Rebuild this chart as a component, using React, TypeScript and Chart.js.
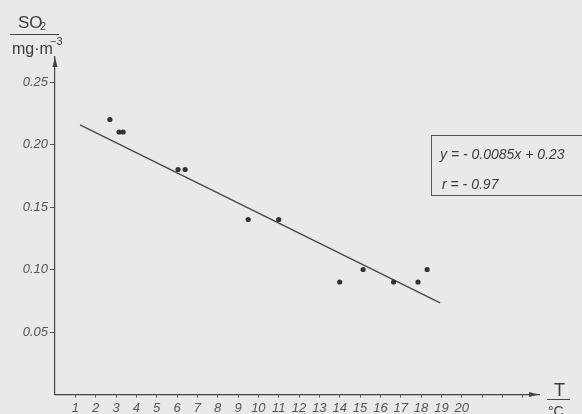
import React, { useEffect, useRef } from "react";
import { Chart, registerables } from "chart.js";

Chart.register(...registerables);

// Data
const tempC = [2.7, 3.15, 3.35, 6.05, 6.4, 9.5, 11.0, 14.0, 15.15, 16.65, 17.85, 18.3];
const so2 = [0.22, 0.21, 0.21, 0.18, 0.18, 0.14, 0.14, 0.09, 0.1, 0.09, 0.09, 0.1];
const fitX = [1.23, 18.94];
const fitY = [0.2157, 0.0733];
const xLabelMin = 1;
const xLabelMax = 20;
const yTickLabels = ["0.05", "0.10", "0.15", "0.20", "0.25"];
const equationText = "y = - 0.0085x + 0.23";
const rText = "r = - 0.97";

const INK = "#444";
const TICK_INK = "#555";
const FONT = "'Liberation Sans', Arial, sans-serif";

const arrowPlugin = {
  id: "axisArrows",
  afterDraw(chart: any) {
    const { ctx } = chart;
    const xs = chart.scales.x;
    const ys = chart.scales.y;
    const x0 = xs.getPixelForValue(0);
    const y0 = ys.getPixelForValue(0);
    const yTop = ys.getPixelForValue(ys.max);
    const xRight = xs.getPixelForValue(xs.max);
    ctx.save();
    ctx.fillStyle = INK;
    ctx.beginPath();
    ctx.moveTo(x0, yTop);
    ctx.lineTo(x0 - 2.5, yTop + 10);
    ctx.lineTo(x0 + 2.5, yTop + 10);
    ctx.closePath();
    ctx.fill();
    ctx.beginPath();
    ctx.moveTo(xRight, y0);
    ctx.lineTo(xRight - 10, y0 - 2.5);
    ctx.lineTo(xRight - 10, y0 + 2.5);
    ctx.closePath();
    ctx.fill();
    ctx.restore();
  },
};

export default function App() {
  const ref = useRef<HTMLCanvasElement | null>(null);

  useEffect(() => {
    if (!ref.current) return;
    const chart = new Chart(ref.current, {
      type: "scatter",
      data: {
        datasets: [
          {
            data: tempC.map((x, i) => ({ x, y: so2[i] })),
            backgroundColor: "#333",
            borderWidth: 0,
            pointRadius: 2.6,
          },
          {
            data: fitX.map((x, i) => ({ x, y: fitY[i] })),
            showLine: true,
            borderColor: INK,
            borderWidth: 1.2,
            pointRadius: 0,
          },
        ],
      },
      options: {
        animation: false,
        responsive: false,
        devicePixelRatio: 1,
        layout: { padding: { top: 57, right: 43, left: 0, bottom: 0 } },
        plugins: { legend: { display: false }, tooltip: { enabled: false } },
        scales: {
          x: {
            type: "linear",
            min: 0,
            max: 23.8,
            afterFit: (s: any) => {
              s.height = 19.5;
            },
            border: { display: true, color: INK, width: 1.2 },
            grid: {
              drawOnChartArea: false,
              drawTicks: true,
              tickLength: 3,
              color: (c: any) => (c.tick && c.tick.value === 0 ? "rgba(0,0,0,0)" : TICK_INK),
            },
            ticks: {
              stepSize: 1,
              includeBounds: false,
              autoSkip: false,
              maxRotation: 0,
              padding: 3,
              color: TICK_INK,
              font: { family: FONT, size: 13, style: "italic" },
              callback: (v: any) => (v >= xLabelMin && v <= xLabelMax ? String(v) : ""),
            },
          },
          y: {
            type: "linear",
            min: 0,
            max: 0.27,
            afterFit: (s: any) => {
              s.width = 55;
            },
            border: { display: true, color: INK, width: 1.2 },
            grid: {
              drawOnChartArea: false,
              drawTicks: true,
              tickLength: 5,
              color: (c: any) => (c.tick && c.tick.value === 0 ? "rgba(0,0,0,0)" : TICK_INK),
            },
            ticks: {
              stepSize: 0.05,
              includeBounds: false,
              autoSkip: false,
              padding: 2,
              color: TICK_INK,
              font: { family: FONT, size: 13, style: "italic" },
              callback: (v: any) => {
                const idx = Math.round(v / 0.05) - 1;
                return idx >= 0 && idx < yTickLabels.length ? yTickLabels[idx] : "";
              },
            },
          },
        },
      },
      plugins: [arrowPlugin],
    } as any);
    return () => chart.destroy();
  }, []);

  const txt = (extra: React.CSSProperties): React.CSSProperties => ({
    position: "absolute",
    fontFamily: FONT,
    color: "#3c3c3c",
    lineHeight: 1,
    whiteSpace: "nowrap",
    ...extra,
  });

  return (
    <div
      style={{
        position: "fixed",
        left: 0,
        top: 0,
        width: 582,
        height: 414,
        background: "#e9e9e9",
        overflow: "hidden",
      }}
    >
      <canvas
        ref={ref}
        width={582}
        height={414}
        style={{ position: "absolute", left: 0, top: 0, width: 582, height: 414 }}
      />
      {/* y-axis title: SO2 / mg·m-3 */}
      <span style={txt({ left: 18, top: 14, fontSize: 17 })}>SO</span>
      <span style={txt({ left: 40, top: 21, fontSize: 11 })}>2</span>
      <div style={{ position: "absolute", left: 10, top: 33.5, width: 49, height: 1.5, background: INK }} />
      <span style={txt({ left: 12, top: 41, fontSize: 16 })}>mg·m</span>
      <span style={txt({ left: 50, top: 36, fontSize: 11 })}>−3</span>
      {/* x-axis title: T / °C */}
      <span style={txt({ left: 554, top: 381, fontSize: 18 })}>T</span>
      <div style={{ position: "absolute", left: 547, top: 398.5, width: 23, height: 1.5, background: INK }} />
      <span style={txt({ left: 548, top: 404, fontSize: 14 })}>°C</span>
      {/* regression box */}
      <div
        style={{
          position: "absolute",
          left: 431,
          top: 135,
          width: 170,
          height: 61,
          border: `1px solid ${TICK_INK}`,
          boxSizing: "border-box",
        }}
      />
      <span style={txt({ left: 440, top: 147, fontSize: 14, fontStyle: "italic" })}>{equationText}</span>
      <span style={txt({ left: 442, top: 176.5, fontSize: 14, fontStyle: "italic" })}>{rText}</span>
    </div>
  );
}
